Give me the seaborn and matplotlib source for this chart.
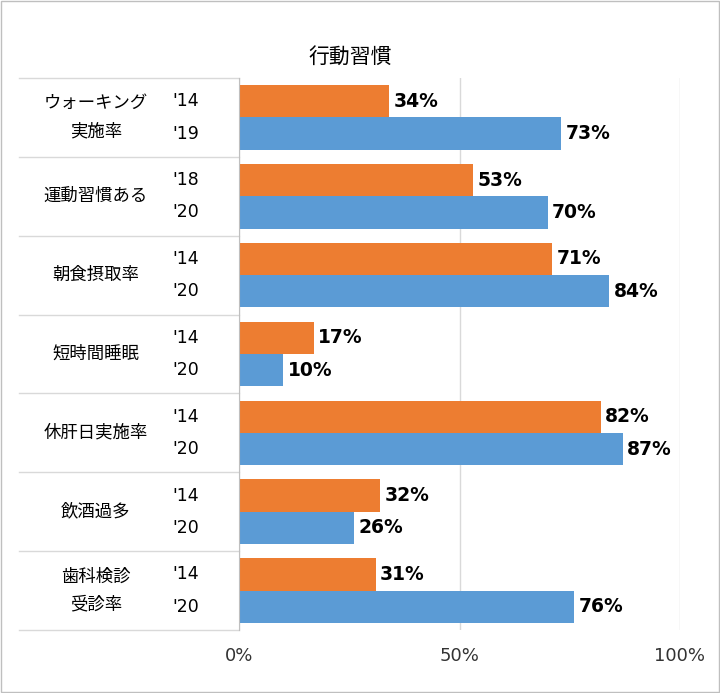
import matplotlib
matplotlib.use("Agg")
import matplotlib.pyplot as plt
import seaborn as sns
import pandas as pd
from matplotlib.patches import Rectangle

categories = ["ウォーキング\n実施率", "運動習慣ある", "朝食摂取率", "短時間睡眠", "休肝日実施率", "飲酒過多", "歯科検診\n受診率"]
years_prev = ["'14", "'18", "'14", "'14", "'14", "'14", "'14"]
years_curr = ["'19", "'20", "'20", "'20", "'20", "'20", "'20"]
values_prev = [34, 53, 71, 17, 82, 32, 31]
values_curr = [73, 70, 84, 10, 87, 26, 76]

rows = []
for c, p, q in zip(categories, values_prev, values_curr):
    rows.append({"cat": c, "series": "prev", "val": p})
    rows.append({"cat": c, "series": "curr", "val": q})
df = pd.DataFrame(rows)

plt.rcParams["font.family"] = ["DejaVu Sans", "Noto Sans CJK JP"]
fig = plt.figure(figsize=(7.2, 6.93), dpi=100)
ax = fig.add_axes([239/720, 1-630/693, 441/720, (630-78)/693])
sns.barplot(data=df, y="cat", x="val", hue="series", hue_order=["prev", "curr"],
            palette={"prev": "#ED7D31", "curr": "#5B9BD5"}, order=categories,
            width=0.82, orient="h", ax=ax, legend=False, saturation=1)
ax.set_xlim(0, 100)
ax.set_ylim(len(categories)-0.5, -0.5)
ax.set_xticks([0, 50, 100])
ax.set_xticklabels(["0%", "50%", "100%"], fontsize=13, color="#333333")
ax.tick_params(axis="x", length=0, pad=12)
ax.set_yticks([])
ax.set_xlabel(""); ax.set_ylabel("")
for s in ["top", "right", "bottom"]:
    ax.spines[s].set_visible(False)
ax.spines["left"].set_color("#bfbfbf")
ax.grid(axis="x", color="#d9d9d9", lw=1)
ax.set_axisbelow(True)

off = 0.205
trans = ax.get_yaxis_transform()
for i, c in enumerate(categories):
    ax.text(values_prev[i] + 1, i - off, f"{values_prev[i]}%", va="center", fontsize=13.5, fontweight="bold")
    ax.text(values_curr[i] + 1, i + off, f"{values_curr[i]}%", va="center", fontsize=13.5, fontweight="bold")
    ax.text(-0.12, i - off, years_prev[i], transform=trans, ha="center", va="center", fontsize=12.5)
    ax.text(-0.12, i + off, years_curr[i], transform=trans, ha="center", va="center", fontsize=12.5)
    ax.text(-0.325, i, c, transform=trans, ha="center", va="center", fontsize=12.5, linespacing=1.75,
            fontfamily="Noto Sans CJK JP")
for b in range(len(categories)+1):
    ax.plot([-0.5, 0], [b-0.5, b-0.5], transform=trans, color="#d9d9d9", lw=1, clip_on=False)

fig.text(350/720, 1-57/693, "行動習慣", ha="center", va="center", fontsize=15, fontfamily="Noto Sans CJK JP")
fig.patches.append(Rectangle((0.002, 0.002), 0.996, 0.996, transform=fig.transFigure,
                             fill=False, ec="#bfbfbf", lw=1))
fig.savefig("out.png", dpi=100)
